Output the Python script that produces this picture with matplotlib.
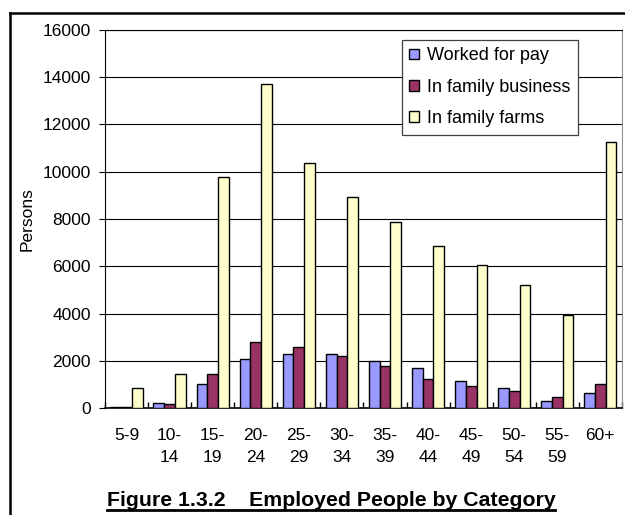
import matplotlib
matplotlib.use("Agg")
import matplotlib.pyplot as plt
from matplotlib.lines import Line2D
import numpy as np

plt.rcParams['font.family'] = ['Liberation Sans', 'DejaVu Sans']

age_groups = ["5-9", "10-\n14", "15-\n19", "20-\n24", "25-\n29", "30-\n34",
              "35-\n39", "40-\n44", "45-\n49", "50-\n54", "55-\n59", "60+"]
worked_for_pay = [50, 220, 1010, 2080, 2280, 2280, 2010, 1710, 1150, 870, 300, 660]
family_business = [50, 160, 1440, 2800, 2580, 2220, 1800, 1220, 940, 730, 450, 1010]
family_farms = [870, 1440, 9780, 13700, 10350, 8930, 7860, 6850, 6070, 5220, 3930, 11260]
series_names = ["Worked for pay", "In family business", "In family farms"]
series_colors = ["#9999FF", "#993366", "#FFFFCC"]
y_ticks = [0, 2000, 4000, 6000, 8000, 10000, 12000, 14000, 16000]

fig = plt.figure(figsize=(6.25, 5.15), dpi=100)
ax = fig.add_axes([0.168, 0.2075, 0.827, 0.735])

x = np.arange(len(age_groups))
w = 0.25
for i, (vals, name, col) in enumerate(zip([worked_for_pay, family_business, family_farms],
                                          series_names, series_colors)):
    ax.bar(x + (i - 1) * w, vals, width=w, color=col, edgecolor="black",
           linewidth=1.0, label=name, zorder=3)

ax.set_xlim(-0.5, len(age_groups) - 0.5)
ax.set_ylim(0, 16000)
ax.set_yticks(y_ticks)
ax.set_yticklabels([str(v) for v in y_ticks], fontsize=12.5)
ax.yaxis.grid(True, color="black", linewidth=0.8, zorder=0)
ax.set_axisbelow(True)

ax.set_xticks(x)
ax.set_xticklabels(age_groups, fontsize=12.5, linespacing=1.65, va="top")
ax.tick_params(axis="x", which="major", length=0, pad=14)
ax.set_xticks(np.arange(-0.5, len(age_groups)), minor=True)
ax.tick_params(axis="x", which="minor", direction="in", length=4, width=1, color="black")
ax.tick_params(axis="y", direction="out", length=4, width=0.8, pad=6)

ax.spines["left"].set_color("black")
ax.spines["bottom"].set_color("black")
ax.spines["bottom"].set_linewidth(1.2)
ax.spines["top"].set_color("black")
ax.spines["top"].set_linewidth(0.8)
ax.spines["right"].set_color("#909090")
ax.spines["right"].set_linewidth(0.8)

ax.set_ylabel("Persons", fontsize=12.5, labelpad=6)

leg = ax.legend(loc="upper left", bbox_to_anchor=(0.574, 0.972), borderaxespad=0,
                fontsize=13, frameon=True, fancybox=False, framealpha=1,
                edgecolor="#404040", handlelength=0.55, handleheight=0.55,
                handletextpad=0.45, labelspacing=0.8, borderpad=0.4)
leg.get_frame().set_linewidth(0.9)

# outer frame
fig.add_artist(Line2D([10 / 625, 10 / 625], [1 - 13 / 515, 0], transform=fig.transFigure,
                      color="black", linewidth=1.8))
fig.add_artist(Line2D([10 / 625, 1], [1 - 13 / 515, 1 - 13 / 515], transform=fig.transFigure,
                      color="black", linewidth=1.8))

title = fig.text(331 / 625, 1 - 506.5 / 515, "Figure 1.3.2    Employed People by Category",
                 fontsize=15.3, fontweight="bold", ha="center", va="baseline")
fig.canvas.draw()
bb = title.get_window_extent()
fig.add_artist(Line2D([bb.x0 / fig.bbox.width, bb.x1 / fig.bbox.width],
                      [1 - 510 / 515, 1 - 510 / 515], transform=fig.transFigure,
                      color="black", linewidth=2.0))

fig.savefig("out.png", dpi=100)
